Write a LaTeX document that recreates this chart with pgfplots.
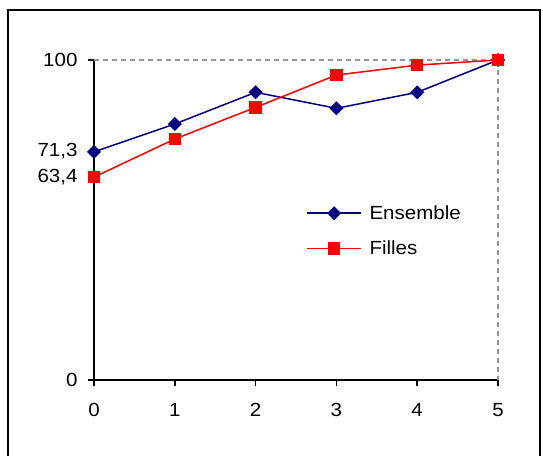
\documentclass[border=0pt]{standalone}
\usepackage{fontspec}
\setmainfont{Liberation Sans}[FakeStretch=1.08]
\usepackage{pgfplots}
\pgfplotsset{compat=1.18}
\definecolor{navyc}{RGB}{0,0,128}
\definecolor{redc}{RGB}{255,0,0}
\definecolor{dashg}{RGB}{150,150,150}
\begin{document}
\begin{tikzpicture}[x=1pt,y=1pt]
\path[use as bounding box] (0,0) rectangle (543,455);
\draw[line width=1.8pt,black] (8,-5) -- (8,445) -- (540,445) -- (540,-5);
\begin{axis}[
  at={(94pt,75pt)}, anchor=south west,
  scale only axis, width=404pt, height=320pt,
  xmin=0, xmax=5, ymin=0, ymax=100,
  clip=false,
  axis x line*=bottom, axis y line*=left,
  axis line style={line width=1.7pt, black},
  tick style={line width=1.5pt, black},
  tick align=outside, major tick length=6pt,
  xtick={0,1,2,3,4,5},
  ytick={0,63.4,71.3,100},
  yticklabels={0,{\raisebox{-4pt}{63,4}\hspace{-14pt}},{\raisebox{3pt}{71,3}\hspace{-9pt}},100},
  /pgf/number format/assume math mode=true,
  font=\fontsize{19}{22}\selectfont,
  xticklabel style={yshift=-14pt},
  yticklabel style={xshift=-7pt},
  legend style={draw=none, fill=none, at={(0.525,0.466)}, anchor=west,
    inner sep=0pt, row sep=16pt, font=\fontsize{19}{22}\selectfont,
    /tikz/every even column/.append style={column sep=0pt}},
  legend cell align=left,
  legend image code/.code={%
    \draw[mark repeat=2,mark phase=2,#1] plot coordinates {(0pt,0pt) (27pt,0pt) (54pt,0pt)};},
]
\addplot[dashg, dashed, line width=1.2pt, dash pattern=on 5pt off 4pt, forget plot] coordinates {(0,100) (5,100) (5,0)};
\addplot[navyc, line width=1.5pt, mark=square*, mark size=4.2pt, mark options={solid, fill=navyc, rotate=45}] coordinates {
(0,71.3) (1,80.0) (2,89.9) (3,84.9) (4,89.9) (5,100)};
\addlegendentry{\ Ensemble}
\addplot[redc, line width=1.5pt, mark=square*, mark size=5.5pt, mark options={solid, fill=redc}] coordinates {
(0,63.4) (1,75.3) (2,85.2) (3,95.3) (4,98.4) (5,100)};
\addlegendentry{\ Filles}
\end{axis}
\end{tikzpicture}
\end{document}
